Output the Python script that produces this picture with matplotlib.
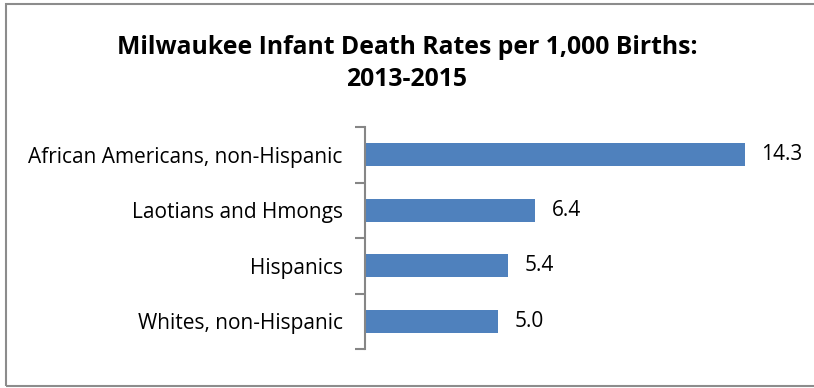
import matplotlib.pyplot as plt
from matplotlib.patches import Rectangle

groups = ['African Americans, non-Hispanic', 'Laotians and Hmongs',
          'Hispanics', 'Whites, non-Hispanic']
rates = [14.3, 6.4, 5.4, 5.0]

plt.rcParams['font.family'] = ['Open Sans', 'DejaVu Sans']

fig = plt.figure(figsize=(8.14, 3.88), dpi=100)
ax = fig.add_axes([365 / 814, 1 - 349 / 388, 425 / 814, 222 / 388])

pos = list(range(len(groups)))
bars = ax.barh(pos, rates, height=0.42, color='#4f81bd')
ax.set_ylim(len(groups) - 0.5, -0.5)
ax.set_xlim(0, 16)

# value labels to the right of each bar
for b, v in zip(bars, rates):
    ax.text(b.get_width() + 0.62, b.get_y() + b.get_height() / 2, f'{v:.1f}',
            va='center', ha='left', fontsize=15, color='black')

# tick marks sit between categories, labels centred on the bars
ax.set_yticks([p - 0.5 for p in pos] + [len(groups) - 0.5])
ax.set_yticklabels([])
ax.set_yticks(pos, minor=True)
ax.set_yticklabels(groups, minor=True, fontsize=15)
ax.tick_params(axis='y', which='major', length=7, width=1.5, color='#868686')
ax.tick_params(axis='y', which='minor', length=0, pad=16)
ax.set_xticks([])
for s in ['top', 'right', 'bottom']:
    ax.spines[s].set_visible(False)
ax.spines['left'].set_color('#868686')
ax.spines['left'].set_linewidth(1.5)

fig.text(0.5, 1 - 47 / 388, 'Milwaukee Infant Death Rates per 1,000 Births:',
         ha='center', va='center', fontsize=17.8, fontweight='bold')
fig.text(0.5, 1 - 80 / 388, '2013-2015',
         ha='center', va='center', fontsize=17.8, fontweight='bold')

# outer chart frame
fig.patches.append(Rectangle((6 / 814, 2 / 388), 1.2, 382 / 388, transform=fig.transFigure,
                             fill=False, edgecolor='#8c8c8c', linewidth=1.5))

fig.savefig('out.png', dpi=100)
